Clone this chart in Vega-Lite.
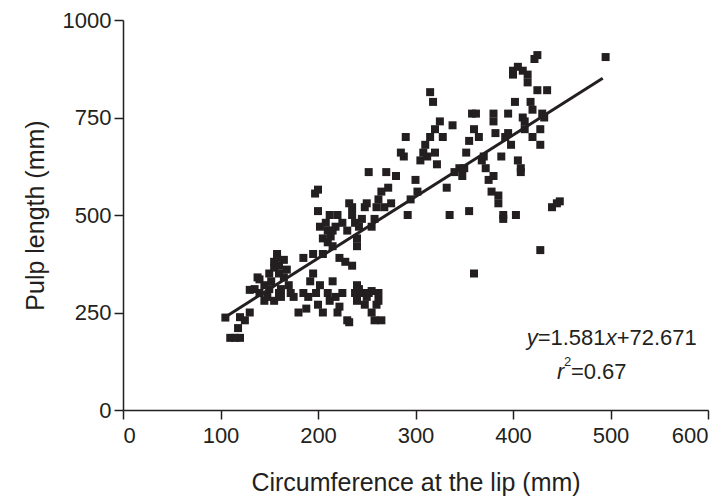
{
  "$schema": "https://vega.github.io/schema/vega-lite/v6.json",
  "autosize": "none",
  "width": 585,
  "height": 390,
  "padding": {"left": 123, "top": 20, "right": 20, "bottom": 94},
  "background": "white",
  "config": {
    "view": {"stroke": null},
    "font": "Liberation Sans",
    "axis": {"grid": false, "domainColor": "#231f20", "tickColor": "#231f20", "labelColor": "#231f20", "titleColor": "#231f20", "domainWidth": 1.5, "tickWidth": 1.5, "labelFont": "Liberation Sans", "titleFont": "Liberation Sans", "titleFontWeight": "normal", "labelFontSize": 22, "titleFontSize": 25, "tickSize": 9}
  },
  "datasets": {
    "pts": [
      {"c":105,"p":237},{"c":110,"p":185},{"c":115,"p":185},{"c":118,"p":210},{"c":120,"p":238},{"c":120,"p":185},{"c":125,"p":230},{"c":130,"p":250},{"c":130,"p":308},{"c":135,"p":310},{"c":138,"p":340},{"c":140,"p":300},{"c":140,"p":335},{"c":145,"p":320},{"c":148,"p":290},{"c":150,"p":310},{"c":150,"p":350},{"c":152,"p":330},{"c":155,"p":365},{"c":155,"p":380},{"c":158,"p":400},{"c":158,"p":390},{"c":160,"p":370},{"c":160,"p":350},{"c":162,"p":310},{"c":162,"p":290},{"c":165,"p":385},{"c":165,"p":340},{"c":168,"p":360},{"c":170,"p":320},{"c":172,"p":300},{"c":175,"p":290},{"c":160,"p":300},{"c":145,"p":280},{"c":155,"p":280},
      {"c":180,"p":250},{"c":185,"p":300},{"c":185,"p":390},{"c":188,"p":260},{"c":190,"p":290},{"c":192,"p":330},{"c":195,"p":400},{"c":195,"p":350},{"c":198,"p":300},{"c":200,"p":270},{"c":202,"p":320},{"c":205,"p":250},{"c":210,"p":300},{"c":212,"p":280},{"c":215,"p":330},{"c":218,"p":290},{"c":220,"p":250},{"c":222,"p":265},{"c":225,"p":300},{"c":228,"p":380},{"c":230,"p":230},{"c":232,"p":225},{"c":235,"p":370},{"c":238,"p":300},{"c":240,"p":320},{"c":240,"p":280},{"c":242,"p":310},{"c":245,"p":300},{"c":248,"p":270},{"c":250,"p":290},{"c":252,"p":300},{"c":255,"p":250},{"c":255,"p":305},{"c":258,"p":230},{"c":260,"p":270},{"c":262,"p":300},{"c":265,"p":230},{"c":262,"p":280},
      {"c":197,"p":555},{"c":200,"p":565},{"c":200,"p":510},{"c":202,"p":470},{"c":205,"p":440},{"c":205,"p":400},{"c":208,"p":480},{"c":210,"p":460},{"c":210,"p":430},{"c":212,"p":500},{"c":213,"p":445},{"c":215,"p":460},{"c":215,"p":420},{"c":218,"p":470},{"c":220,"p":500},{"c":222,"p":390},{"c":225,"p":480},{"c":230,"p":460},{"c":232,"p":530},{"c":235,"p":520},{"c":235,"p":500},{"c":238,"p":480},{"c":240,"p":440},{"c":240,"p":420},{"c":242,"p":470},{"c":245,"p":490},{"c":248,"p":520},{"c":250,"p":530},{"c":252,"p":610},{"c":255,"p":470},{"c":258,"p":490},{"c":260,"p":520},{"c":262,"p":540},{"c":265,"p":560},{"c":268,"p":520},{"c":270,"p":610},{"c":272,"p":570},{"c":275,"p":530},{"c":280,"p":600},{"c":285,"p":660},{"c":288,"p":650},{"c":290,"p":700},{"c":292,"p":500},{"c":295,"p":540},
      {"c":300,"p":590},{"c":302,"p":560},{"c":305,"p":640},{"c":308,"p":660},{"c":310,"p":680},{"c":312,"p":650},{"c":315,"p":700},{"c":315,"p":815},{"c":318,"p":790},{"c":320,"p":720},{"c":320,"p":660},{"c":322,"p":630},{"c":325,"p":740},{"c":328,"p":700},{"c":332,"p":570},{"c":335,"p":500},{"c":338,"p":730},{"c":340,"p":610},{"c":345,"p":620},{"c":348,"p":600},{"c":350,"p":620},{"c":352,"p":660},{"c":355,"p":510},{"c":355,"p":690},{"c":358,"p":760},{"c":360,"p":720},{"c":360,"p":350},{"c":362,"p":760},{"c":365,"p":700},{"c":368,"p":640},{"c":370,"p":650},{"c":372,"p":620},{"c":375,"p":590},{"c":378,"p":560},{"c":380,"p":600},{"c":380,"p":760},
      {"c":380,"p":740},{"c":382,"p":710},{"c":385,"p":550},{"c":385,"p":530},{"c":388,"p":650},{"c":390,"p":500},{"c":390,"p":490},{"c":392,"p":700},{"c":395,"p":760},{"c":395,"p":710},{"c":398,"p":680},{"c":400,"p":870},{"c":400,"p":860},{"c":402,"p":790},{"c":403,"p":500},{"c":405,"p":880},{"c":405,"p":640},{"c":408,"p":620},{"c":408,"p":610},{"c":410,"p":870},{"c":410,"p":750},{"c":412,"p":740},{"c":412,"p":720},{"c":415,"p":860},{"c":415,"p":840},{"c":418,"p":790},{"c":420,"p":700},{"c":420,"p":770},{"c":422,"p":900},{"c":425,"p":910},{"c":425,"p":820},{"c":428,"p":680},{"c":428,"p":720},{"c":428,"p":410},{"c":430,"p":760},{"c":432,"p":750},{"c":435,"p":820},{"c":440,"p":520},{"c":445,"p":530},{"c":448,"p":535},{"c":495,"p":905}
    ],
    "fit": [{"c":105,"p":238.7},{"c":492,"p":850.5}],
    "eq": [{"c":414,"p":185}],
    "r2": [{"c":445,"p":97}]
  },
  "layer": [
    {
      "data": {"name": "pts"},
      "mark": {"type": "square", "size": 64, "color": "#231f20", "opacity": 1, "filled": true},
      "encoding": {
        "x": {"field": "c", "type": "quantitative", "scale": {"domain": [0, 600], "nice": false}, "axis": {"values": [0,100,200,300,400,500,600], "title": "Circumference at the lip (mm)", "titlePadding": 24, "labelPadding": 6}},
        "y": {"field": "p", "type": "quantitative", "scale": {"domain": [0, 1000], "nice": false}, "axis": {"values": [0,250,500,750,1000], "format": "d", "title": "Pulp length (mm)", "titlePadding": 14, "labelPadding": 3}}
      }
    },
    {
      "data": {"name": "fit"},
      "mark": {"type": "line", "color": "#231f20", "strokeWidth": 3},
      "encoding": {"x": {"field": "c", "type": "quantitative"}, "y": {"field": "p", "type": "quantitative"}}
    },
    {
      "data": {"name": "eq"},
      "mark": {"type": "text", "align": "left", "baseline": "middle", "fontSize": 22, "fontStyle": "italic", "color": "#231f20", "dx": 0, "text": "y"},
      "encoding": {"x": {"field": "c", "type": "quantitative"}, "y": {"field": "p", "type": "quantitative"}}
    },
    {
      "data": {"name": "eq"},
      "mark": {"type": "text", "align": "left", "baseline": "middle", "fontSize": 22, "color": "#231f20", "dx": 11, "text": "=1.581"},
      "encoding": {"x": {"field": "c", "type": "quantitative"}, "y": {"field": "p", "type": "quantitative"}}
    },
    {
      "data": {"name": "eq"},
      "mark": {"type": "text", "align": "left", "baseline": "middle", "fontSize": 22, "fontStyle": "italic", "color": "#231f20", "dx": 79, "text": "x"},
      "encoding": {"x": {"field": "c", "type": "quantitative"}, "y": {"field": "p", "type": "quantitative"}}
    },
    {
      "data": {"name": "eq"},
      "mark": {"type": "text", "align": "left", "baseline": "middle", "fontSize": 22, "color": "#231f20", "dx": 90, "text": "+72.671"},
      "encoding": {"x": {"field": "c", "type": "quantitative"}, "y": {"field": "p", "type": "quantitative"}}
    },
    {
      "data": {"name": "r2"},
      "mark": {"type": "text", "align": "left", "baseline": "middle", "fontSize": 22, "fontStyle": "italic", "color": "#231f20", "dx": 0, "text": "r"},
      "encoding": {"x": {"field": "c", "type": "quantitative"}, "y": {"field": "p", "type": "quantitative"}}
    },
    {
      "data": {"name": "r2"},
      "mark": {"type": "text", "align": "left", "baseline": "middle", "fontSize": 13, "color": "#231f20", "dx": 7, "dy": -10, "text": "2"},
      "encoding": {"x": {"field": "c", "type": "quantitative"}, "y": {"field": "p", "type": "quantitative"}}
    },
    {
      "data": {"name": "r2"},
      "mark": {"type": "text", "align": "left", "baseline": "middle", "fontSize": 22, "color": "#231f20", "dx": 14, "text": "=0.67"},
      "encoding": {"x": {"field": "c", "type": "quantitative"}, "y": {"field": "p", "type": "quantitative"}}
    }
  ]
}
